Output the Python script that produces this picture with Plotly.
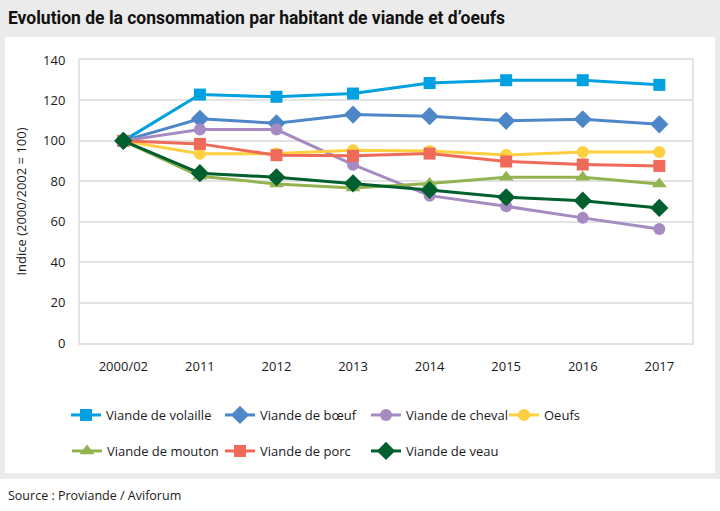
import plotly.graph_objects as go

categories = ["2000/02", "2011", "2012", "2013", "2014", "2015", "2016", "2017"]

volaille = [100, 122.9, 121.8, 123.4, 128.6, 130.0, 130.0, 127.7]
boeuf    = [100, 110.9, 108.7, 113.0, 112.2, 109.9, 110.7, 108.2]
cheval   = [100, 105.6, 105.6, 88.2, 72.9, 67.6, 61.9, 56.4]
oeufs    = [100, 93.6, 93.7, 95.3, 95.0, 93.0, 94.5, 94.5]
mouton   = [100, 82.5, 78.7, 76.7, 78.9, 82.0, 82.0, 78.7]
porc     = [100, 98.5, 92.9, 92.6, 93.7, 89.8, 88.3, 87.6]
veau     = [100, 84.0, 82.0, 79.0, 75.7, 72.1, 70.4, 66.8]

series = [
    ("Viande de volaille", volaille, "#00a0e1", "square", 12),
    ("Viande de bœuf", boeuf, "#4e87c8", "diamond", 14),
    ("Viande de cheval", cheval, "#a68bc2", "circle", 12),
    ("Oeufs", oeufs, "#ffcf3f", "circle", 12),
    ("Viande de mouton", mouton, "#93b350", "triangle-up", 13),
    ("Viande de porc", porc, "#ee6b5a", "square", 12),
    ("Viande de veau", veau, "#005f2e", "diamond", 14),
]

W, H = 720, 511
L, R, T, B = 80, 692, 60, 343
PW, PH = R - L, B - T


def px(xp):
    return (xp - L) / PW


def py(yp):
    return (B - yp) / PH


# legend positions (px): left x, center y
legend_pos = [(66, 415), (220, 415), (366, 415), (504, 415),
              (67, 451), (220, 451), (366, 451)]

FONT = "Open Sans, Noto Sans, sans-serif"
fig = go.Figure()
layout_legends = {}
for i, (name, vals, col, sym, ms) in enumerate(series):
    lname = "legend" if i == 0 else f"legend{i+1}"
    fig.add_trace(go.Scatter(
        x=categories, y=vals, name=name, mode="lines+markers",
        line=dict(color=col, width=3),
        marker=dict(symbol=sym, size=ms, color=col),
        legend=lname,
    ))
    lx, ly = legend_pos[i]
    layout_legends[lname] = dict(
        x=px(lx), y=py(ly), xanchor="left", yanchor="middle",
        bgcolor="rgba(0,0,0,0)", borderwidth=0,
        font=dict(family=FONT, size=13, color="#1a1a1a"),
        itemwidth=30,
    )

fig.update_layout(
    width=W, height=H,
    margin=dict(l=L, r=W - R, t=T, b=H - B, autoexpand=False),
    paper_bgcolor="#ebebeb",
    plot_bgcolor="white",
    showlegend=True,
    font=dict(family=FONT, size=13, color="#1a1a1a"),
    **layout_legends,
    xaxis=dict(
        type="category", range=[-0.566, 7.427], automargin=False,
        showgrid=False, showline=True, linecolor="#e3e3e3", linewidth=2, mirror=True,
        ticks="", ticklabelstandoff=10, zeroline=False,
        tickfont=dict(family=FONT, size=13, color="#1a1a1a"),
    ),
    yaxis=dict(
        range=[0, 140], tickvals=[0, 20, 40, 60, 80, 100, 120, 140], automargin=False,
        showgrid=True, gridcolor="#e3e3e3", gridwidth=2,
        showline=True, linecolor="#e3e3e3", linewidth=2, mirror=True,
        ticks="", ticklabelstandoff=10, zeroline=False,
        tickfont=dict(family=FONT, size=13, color="#1a1a1a"),
        title=dict(text="Indice (2000/2002 = 100)", standoff=14,
                   font=dict(family=FONT, size=13, color="#1a1a1a")),
    ),
    shapes=[
        dict(type="rect", xref="paper", yref="paper", layer="below",
             x0=px(5), x1=px(715), y0=py(473), y1=py(37),
             fillcolor="white", line=dict(width=0)),
        dict(type="rect", xref="paper", yref="paper", layer="below",
             x0=px(0), x1=px(720), y0=py(511), y1=py(479),
             fillcolor="white", line=dict(width=0)),
    ],
    annotations=[
        dict(text="<b>Evolution de la consommation par habitant de viande et d’oeufs</b>",
             xref="paper", yref="paper", x=px(6), y=py(18),
             xanchor="left", yanchor="middle", showarrow=False,
             font=dict(family="Liberation Sans Narrow, Roboto, sans-serif", size=17.5, color="#111111")),
        dict(text="Source : Proviande / Aviforum",
             xref="paper", yref="paper", x=px(6), y=py(495),
             xanchor="left", yanchor="middle", showarrow=False,
             font=dict(family=FONT, size=12.5, color="#1a1a1a")),
    ],
)

fig.write_html(
    "out.html",
    config={"displayModeBar": False},
    post_script="document.body.style.margin='0';document.body.style.overflow='hidden';",
)
